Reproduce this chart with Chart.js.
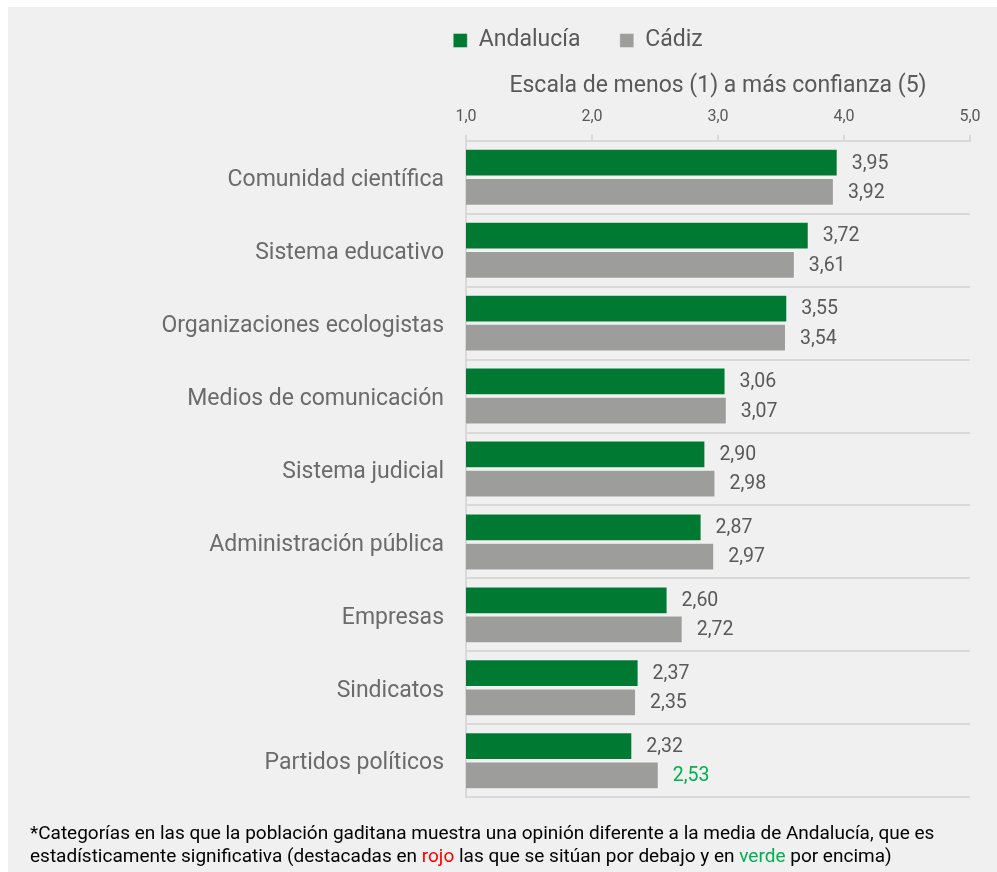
<!DOCTYPE html>
<html>
<head>
<meta charset="utf-8">
<script src="https://cdn.jsdelivr.net/npm/chart.js@4.4.1/dist/chart.umd.min.js"></script>
<style>
  html, body { margin: 0; padding: 0; background: #ffffff; }
  #panel {
    position: absolute; left: 8px; top: 7px; width: 989px; height: 865px;
    background: #f0f0f0;
  }
  #chartBox { position: absolute; left: 0; top: 0; width: 989px; height: 826px; }
  #nota {
    position: absolute; left: 22px; top: 814px;
    font-family: Roboto, sans-serif; font-size: 19px; line-height: 23px; color: #000;
  }
  .rojo { color: #ff0000; }
  .verde { color: #00b050; }
</style>
</head>
<body>
<div id="panel">
  <div id="chartBox"><canvas id="myChart"></canvas></div>
  <div id="nota">*Categorías en las que la población gaditana muestra una opinión diferente a la media de Andalucía, que es<br>estadísticamente significativa (destacadas en <span class="rojo">rojo</span> las que se sitúan por debajo y en <span class="verde">verde</span> por encima)</div>
</div>
<script>
// datos
const categorias = [
  'Comunidad científica',
  'Sistema educativo',
  'Organizaciones ecologistas',
  'Medios de comunicación',
  'Sistema judicial',
  'Administración pública',
  'Empresas',
  'Sindicatos',
  'Partidos políticos'
];
const andalucia = [3.95, 3.72, 3.55, 3.06, 2.90, 2.87, 2.60, 2.37, 2.32];
const cadiz = [3.92, 3.61, 3.54, 3.07, 2.98, 2.97, 2.72, 2.35, 2.53];
// color de la etiqueta de Cadiz (verde = por encima, significativo)
const cadizEtiquetas = ['#595959', '#595959', '#595959', '#595959', '#595959', '#595959', '#595959', '#595959', '#00b050'];
const ticksX = [1, 2, 3, 4, 5];

const fuente = 'Roboto, sans-serif';
const gris = '#595959';
const lineas = '#d9d9d9';

const fmt = v => v.toFixed(2).replace('.', ',');

// etiquetas de valor al final de cada barra
const etiquetasPlugin = {
  id: 'etiquetas',
  afterDatasetsDraw(chart) {
    const ctx = chart.ctx;
    ctx.save();
    ctx.font = '19.5px ' + fuente;
    ctx.textAlign = 'left';
    ctx.textBaseline = 'middle';
    chart.data.datasets.forEach((ds, i) => {
      chart.getDatasetMeta(i).data.forEach((bar, j) => {
        ctx.fillStyle = i === 1 ? cadizEtiquetas[j] : gris;
        ctx.fillText(fmt(ds.data[j]), bar.x + 14, bar.y + 1);
      });
    });
    ctx.restore();
  }
};

// la leyenda no esta centrada en el original
const leyendaPlugin = {
  id: 'leyendaPos',
  afterLayout(chart) {
    const lg = chart.legend;
    lg.left = 0;
    lg.right = 1140;
  }
};

const config = {
  type: 'bar',
  data: {
    labels: categorias,
    datasets: [
      {
        label: 'Andalucía',
        data: andalucia,
        backgroundColor: '#007a33',
        borderColor: 'rgba(255,255,255,0.35)',
        borderWidth: 1,
        categoryPercentage: 0.8,
        barPercentage: 0.95
      },
      {
        label: 'Cádiz',
        data: cadiz,
        backgroundColor: '#9d9d9b',
        borderColor: 'rgba(255,255,255,0.35)',
        borderWidth: 1,
        categoryPercentage: 0.8,
        barPercentage: 0.95
      }
    ]
  },
  options: {
    indexAxis: 'y',
    responsive: true,
    maintainAspectRatio: false,
    animation: false,
    layout: { padding: { top: 12, right: 27, bottom: 9, left: 0 } },
    plugins: {
      legend: {
        position: 'top',
        labels: {
          boxWidth: 14,
          boxHeight: 14,
          padding: 10,
          color: gris,
          font: { family: fuente, size: 23 },
          generateLabels(chart) {
            const items = Chart.defaults.plugins.legend.labels.generateLabels(chart);
            // hueco entre elementos de la leyenda
            items[0].text = items[0].text + '\u2003\u2005';
            return items;
          }
        }
      },
      tooltip: { enabled: false }
    },
    scales: {
      x: {
        position: 'top',
        min: 1,
        max: 5,
        afterBuildTicks(scale) {
          scale.ticks = ticksX.map(v => ({ value: v }));
        },
        ticks: {
          color: gris,
          font: { family: fuente, size: 16 },
          padding: 8,
          callback: v => v.toFixed(1).replace('.', ',')
        },
        grid: {
          drawOnChartArea: false,
          drawTicks: true,
          tickLength: 6,
          color: lineas,
          lineWidth: 2
        },
        border: { display: true, color: lineas, width: 2 },
        title: {
          display: true,
          text: 'Escala de menos (1) a más confianza (5)',
          color: gris,
          font: { family: fuente, size: 23 },
          padding: { top: 10, bottom: 0 }
        }
      },
      y: {
        afterFit(scale) { scale.width = 458; },
        ticks: {
          color: '#6b6b6b',
          font: { family: fuente, size: 23 },
          padding: 22,
          labelOffset: 3
        },
        grid: {
          offset: true,
          drawTicks: false,
          color: lineas,
          lineWidth: 2
        },
        border: { display: true, color: lineas, width: 2 }
      }
    }
  },
  plugins: [etiquetasPlugin, leyendaPlugin]
};

new Chart(document.getElementById('myChart'), config);
</script>
</body>
</html>
